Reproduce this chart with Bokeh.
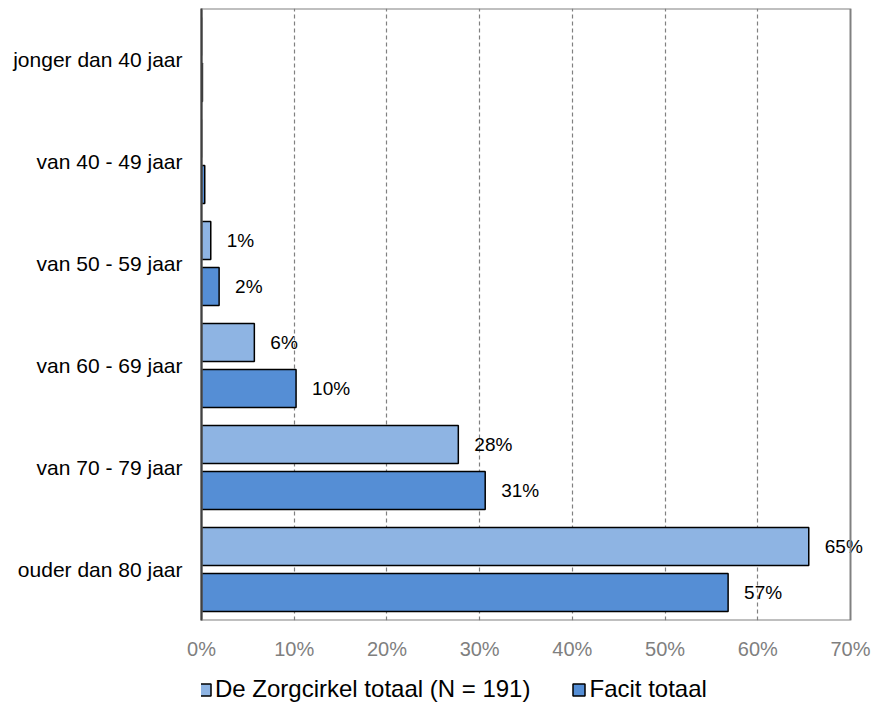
from bokeh.plotting import figure
from bokeh.layouts import column
from bokeh.models import (FactorRange, Range1d, FixedTicker, Legend, LegendItem,
                          ColumnDataSource, BoxAnnotation)
from bokeh.transform import dodge
from bokeh.embed import file_html
from bokeh.resources import INLINE
from bokeh.core.properties import value

# ---- data ----
categories = ["jonger dan 40 jaar", "van 40 - 49 jaar", "van 50 - 59 jaar",
              "van 60 - 69 jaar", "van 70 - 79 jaar", "ouder dan 80 jaar"]
zorgcirkel = [0.0, 0.0, 1.0, 5.7, 27.7, 65.5]
facit = [0.1, 0.35, 1.9, 10.2, 30.6, 56.8]
zorgcirkel_labels = ["", "", "1%", "6%", "28%", "65%"]
facit_labels = ["", "", "2%", "10%", "31%", "57%"]
series_names = ["De Zorgcirkel totaal (N = 191)", "Facit totaal"]
x_ticks = [0, 10, 20, 30, 40, 50, 60, 70]
x_tick_labels = ["0%", "10%", "20%", "30%", "40%", "50%", "60%", "70%"]
grid_ticks = [10, 20, 30, 40, 50, 60]

FONT = "Liberation Sans"
LIGHT = "#8EB4E3"
DARK = "#558ED5"
GRAY = "#808080"

# axis 0..70 spans 649 px; the drawing area extends 22 px further right
X_MAX = x_ticks[-1]
X_END = X_MAX * (649 + 22) / 649

src = ColumnDataSource(dict(cat=categories, zorg=zorgcirkel, facit=facit,
                            zl=zorgcirkel_labels, fl=facit_labels))

p = figure(width=872, height=665, output_backend="svg", toolbar_location=None,
           y_range=FactorRange(factors=list(reversed(categories))),
           x_range=Range1d(0, X_END),
           min_border_left=201, min_border_right=0, min_border_top=8, min_border_bottom=45)

p.outline_line_color = None
p.background_fill_color = "white"
p.border_fill_color = "white"

# gray chart-area border (top, right, bottom)
p.add_layout(BoxAnnotation(left=0, right=X_MAX, fill_color=None, fill_alpha=0,
                           line_color=GRAY, line_alpha=1.0, line_width=2))

p.ygrid.grid_line_color = None
p.xgrid.ticker = FixedTicker(ticks=grid_ticks)
p.xgrid.grid_line_color = GRAY
p.xgrid.grid_line_dash = "4 3"
p.xgrid.grid_line_width = 1.2

OFF = 0.225
H = 0.373
bar_style = dict(line_color="black", line_width=1.5)
r1 = p.hbar(y=dodge("cat", OFF, range=p.y_range), right="zorg", left=0, height=H, source=src,
            fill_color=LIGHT, **bar_style)
r2 = p.hbar(y=dodge("cat", -OFF, range=p.y_range), right="facit", left=0, height=H, source=src,
            fill_color=DARK, **bar_style)

p.text(x="zorg", y=dodge("cat", OFF, range=p.y_range), text="zl", source=src,
       x_offset=16, text_baseline="middle", text_align="left",
       text_font=value(FONT), text_font_size="19px", text_color="black")
p.text(x="facit", y=dodge("cat", -OFF, range=p.y_range), text="fl", source=src,
       x_offset=16, text_baseline="middle", text_align="left",
       text_font=value(FONT), text_font_size="19px", text_color="black")

# x axis
xa = p.xaxis[0]
xa.ticker = FixedTicker(ticks=x_ticks)
xa.major_label_overrides = {t: l for t, l in zip(x_ticks, x_tick_labels)}
xa.axis_line_color = None
xa.major_tick_line_color = None
xa.minor_tick_line_color = None
xa.major_label_text_font = FONT
xa.major_label_text_font_size = "20px"
xa.major_label_text_color = "#7f7f7f"
xa.major_label_standoff = 11

# y axis
ya = p.yaxis[0]
ya.axis_line_color = "black"
ya.axis_line_width = 2
ya.major_tick_line_color = None
ya.minor_tick_line_color = None
ya.major_label_text_font = FONT
ya.major_label_text_font_size = "21px"
ya.major_label_text_color = "black"
ya.major_label_standoff = 13

# ---- legend strip below the chart: proxy renderers are zero-size, only their swatches show ----
lp = figure(width=872, height=45, output_backend="svg", toolbar_location=None,
            x_range=Range1d(-2, -1), y_range=FactorRange(factors=list(reversed(categories))),
            x_axis_location=None, y_axis_location=None,
            min_border_left=0, min_border_right=0, min_border_top=0, min_border_bottom=0)
lp.outline_line_color = None
lp.xgrid.visible = False
lp.ygrid.visible = False
lp.background_fill_color = "white"
lp.border_fill_color = "white"
lr1 = lp.hbar(y="cat", left="zorg", right="zorg", height=0, source=src,
              fill_color=LIGHT, **bar_style)
lr2 = lp.hbar(y="cat", left="facit", right="facit", height=0, source=src,
              fill_color=DARK, **bar_style)

legend = Legend(items=[LegendItem(label=series_names[0], renderers=[lr1]),
                       LegendItem(label=series_names[1], renderers=[lr2])],
                orientation="horizontal", location=(-4, 7),
                padding=0, margin=0, spacing=41,
                glyph_width=15, glyph_height=15, label_standoff=3,
                label_text_font=FONT, label_text_font_size="24px",
                label_text_color="black",
                border_line_color=None, background_fill_alpha=0)
lp.add_layout(legend)

layout = column(p, lp, spacing=0)
open("out.html", "w").write(file_html(layout, INLINE))
